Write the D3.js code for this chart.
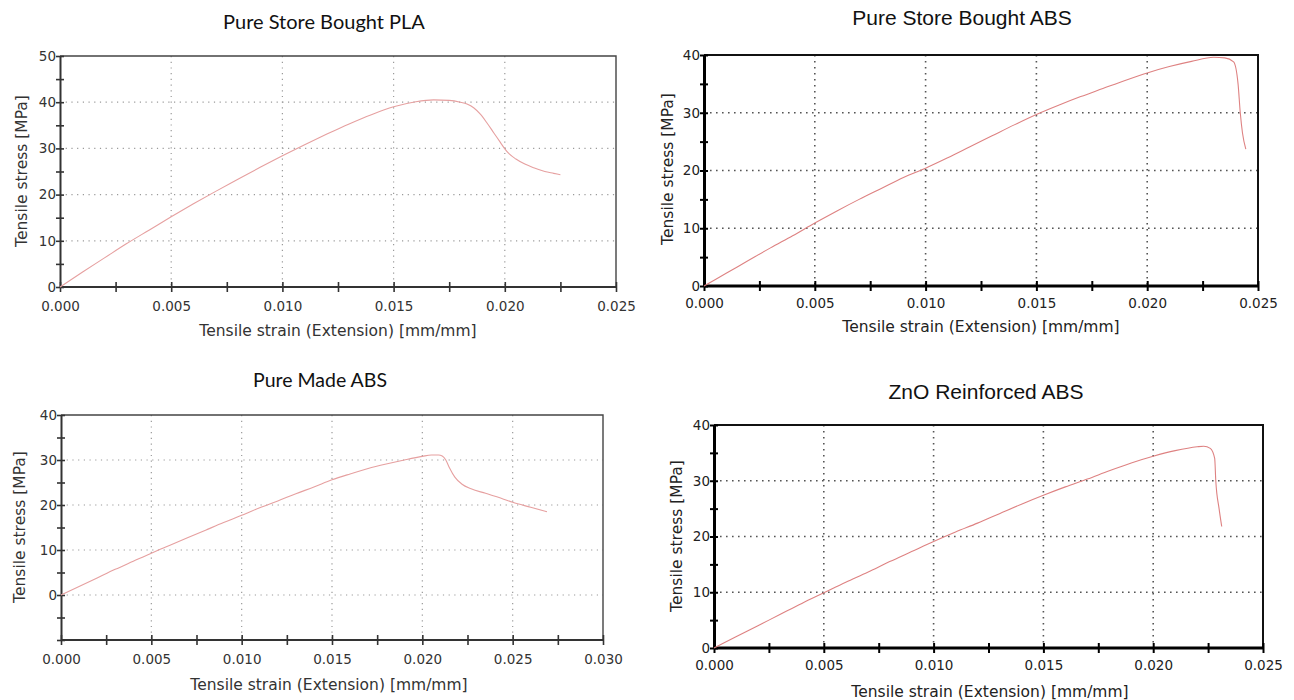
<!DOCTYPE html>
<html>
<head>
<meta charset="utf-8">
<script src="https://cdn.jsdelivr.net/npm/d3@7"></script>
<style>
  body { margin: 0; background: #fff; }
  svg { display: block; }
</style>
</head>
<body>
<div id="chart"></div>
<script>
// Tensile test curves: strain [mm/mm] and stress [MPa]
const plaStrain = [0, 0.001, 0.002, 0.003, 0.004, 0.005, 0.006, 0.007, 0.008, 0.009, 0.010, 0.011, 0.012, 0.013, 0.014, 0.015, 0.016, 0.0168, 0.0175, 0.018, 0.0183, 0.0186, 0.0189, 0.0192, 0.0195, 0.0198, 0.020, 0.0202, 0.0205, 0.0209, 0.0213, 0.0218, 0.0222, 0.0225];
const plaStress = [0, 3.2, 6.3, 9.4, 12.3, 15.2, 18.0, 20.7, 23.3, 25.9, 28.4, 30.8, 33.1, 35.3, 37.3, 39.0, 40.1, 40.5, 40.4, 40.0, 39.6, 38.8, 37.4, 35.5, 33.4, 31.3, 29.9, 28.8, 27.7, 26.6, 25.8, 25.0, 24.6, 24.3];

const storeAbsStrain = [0, 0.001, 0.002, 0.003, 0.004, 0.005, 0.006, 0.007, 0.008, 0.009, 0.010, 0.011, 0.012, 0.013, 0.014, 0.015, 0.016, 0.017, 0.018, 0.019, 0.020, 0.021, 0.022, 0.023, 0.0235, 0.0239, 0.0241, 0.0242, 0.0243, 0.02445];
const storeAbsStress = [0, 2.2, 4.4, 6.6, 8.7, 10.9, 13.0, 15.0, 16.9, 18.8, 20.4, 22.2, 24.1, 26.0, 27.9, 29.7, 31.3, 32.8, 34.2, 35.6, 36.9, 38.0, 38.9, 39.6, 39.5, 38.8, 35.0, 30.0, 26.5, 23.7];

const madeAbsStrain = [0, 0.001, 0.002, 0.003, 0.004, 0.005, 0.006, 0.007, 0.008, 0.009, 0.010, 0.011, 0.012, 0.013, 0.014, 0.015, 0.016, 0.017, 0.018, 0.019, 0.020, 0.0205, 0.0209, 0.0211, 0.0213, 0.0215, 0.0218, 0.0222, 0.0227, 0.0235, 0.0245, 0.025, 0.026, 0.0269];
const madeAbsStress = [0, 1.9, 3.8, 5.7, 7.5, 9.3, 11.0, 12.7, 14.4, 16.1, 17.7, 19.4, 20.9, 22.5, 24.0, 25.6, 26.9, 28.1, 29.1, 30.0, 30.8, 31.1, 31.1, 30.9, 30.0, 28.3, 26.2, 24.6, 23.6, 22.6, 21.3, 20.6, 19.5, 18.5];

const znoAbsStrain = [0, 0.001, 0.002, 0.003, 0.004, 0.005, 0.006, 0.007, 0.008, 0.009, 0.010, 0.011, 0.012, 0.013, 0.014, 0.015, 0.016, 0.017, 0.018, 0.019, 0.020, 0.021, 0.022, 0.0223, 0.0226, 0.0228, 0.02285, 0.0230, 0.02312];
const znoAbsStress = [0, 2.0, 4.0, 6.0, 8.0, 9.9, 11.8, 13.6, 15.5, 17.3, 19.1, 20.8, 22.4, 24.1, 25.8, 27.4, 28.9, 30.3, 31.8, 33.2, 34.4, 35.4, 36.1, 36.2, 35.8, 34.0, 30.0, 25.0, 21.8];

const titles = ['Pure Store Bought PLA', 'Pure Store Bought ABS', 'Pure Made ABS', 'ZnO Reinforced ABS'];
const xLabel = 'Tensile strain (Extension) [mm/mm]';
const yLabel = 'Tensile stress [MPa]';

const xTicks25 = [0, 0.005, 0.010, 0.015, 0.020, 0.025];
const xTicks30 = [0, 0.005, 0.010, 0.015, 0.020, 0.025, 0.030];
const yTicks40 = [0, 10, 20, 30, 40];
const yTicks50 = [0, 10, 20, 30, 40, 50];

let svg = d3.select('#chart')
  .append('svg')
    .attr('width', 1294)
    .attr('height', 700);

let labelFont = 'DejaVu Sans, Verdana, sans-serif';

let drawPanel = function(p) {
  /**
   * One stress-strain plot with its frame, dotted grid, ticks and labels.
   */
  let x = d3.scaleLinear().domain(p.xDomain).range([p.left, p.right]);
  let y = d3.scaleLinear().domain(p.yDomain).range([p.bottom, p.top]);
  let g = svg.append('g');

  let xMinor = d3.range(0, p.xDomain[1] + 1e-9, 0.0025);
  let yMinor = d3.range(p.yDomain[0], p.yDomain[1] + 1e-9, 5);

  // dotted grid
  g.selectAll('.vgrid')
    .data(p.xTicks.filter(d => d > 0 && d < p.xDomain[1]))
    .enter().append('line')
      .attr('x1', d => x(d)).attr('x2', d => x(d))
      .attr('y1', p.top).attr('y2', p.bottom)
      .attr('stroke', p.gridColor).attr('stroke-width', p.gridWidth)
      .attr('stroke-dasharray', p.dash);
  g.selectAll('.hgrid')
    .data(p.yTicks.filter(d => d > p.yDomain[0] && d < p.yDomain[1]))
    .enter().append('line')
      .attr('x1', p.left).attr('x2', p.right)
      .attr('y1', d => y(d)).attr('y2', d => y(d))
      .attr('stroke', p.gridColor).attr('stroke-width', p.gridWidth)
      .attr('stroke-dasharray', p.dash);

  // frame: thin top/right
  g.append('path')
    .attr('d', `M${p.left},${p.top}H${p.right}V${p.bottom}`)
    .attr('fill', 'none')
    .attr('stroke', p.frameColor)
    .attr('stroke-width', p.frameWidth);

  // X axis
  let xAxis = g.append('g')
    .attr('transform', 'translate(0,' + p.bottom + ')')
    .call(d3.axisBottom(x)
      .tickValues(xMinor)
      .tickSize(0)
      .tickPadding(p.xPad)
      .tickFormat(d => p.xTicks.some(t => Math.abs(t - d) < 1e-9) ? d3.format('.3f')(d) : ''));
  xAxis.select('.domain').attr('stroke', p.axisColor).attr('stroke-width', p.axisWidth)
    .attr('d', `M${p.left},0H${p.right}`);
  xAxis.selectAll('.tick line').attr('y1', -5).attr('y2', 5)
    .attr('stroke', p.axisColor).attr('stroke-width', p.tickWidth);
  xAxis.selectAll('.tick text')
    .attr('fill', p.textColor)
    .style('font-family', labelFont)
    .style('font-size', '13.5px');

  // Y axis
  let yAxis = g.append('g')
    .attr('transform', 'translate(' + p.left + ',0)')
    .call(d3.axisLeft(y)
      .tickValues(yMinor)
      .tickSize(0)
      .tickPadding(4)
      .tickFormat(d => p.yTicks.includes(d) ? d : ''));
  yAxis.select('.domain').attr('stroke', p.axisColor).attr('stroke-width', p.axisWidth);
  yAxis.selectAll('.tick line').attr('x1', -4).attr('x2', 4)
    .attr('stroke', p.axisColor).attr('stroke-width', p.tickWidth);
  yAxis.selectAll('.tick text')
    .attr('fill', p.textColor)
    .style('font-family', labelFont)
    .style('font-size', '13.5px');

  // curve
  let pts = p.strain.map((s, i) => [s, p.stress[i]]);
  g.append('path')
    .datum(pts)
    .attr('fill', 'none')
    .attr('stroke', p.lineColor)
    .attr('stroke-width', 1.1)
    .attr('d', d3.line()
      .x(d => x(d[0]))
      .y(d => y(d[1]))
      .curve(d3.curveMonotoneX));

  // titles and labels
  g.append('text')
    .attr('x', p.titleX).attr('y', p.titleY)
    .attr('text-anchor', 'middle')
    .attr('fill', '#111')
    .style('font-family', p.titleFont)
    .style('font-size', p.titleSize + 'px')
    .text(p.title);
  g.append('text')
    .attr('x', p.xLabelX).attr('y', p.xLabelY)
    .attr('text-anchor', 'middle')
    .attr('fill', p.textColor)
    .style('font-family', labelFont)
    .style('font-size', '15.5px')
    .text(xLabel);
  g.append('text')
    .attr('transform', `translate(${p.yLabelX},${p.yLabelY}) rotate(-90)`)
    .attr('text-anchor', 'middle')
    .attr('fill', p.textColor)
    .style('font-family', labelFont)
    .style('font-size', '15.5px')
    .text(yLabel);
};

const lightStyle = {
  gridColor: '#9a9a9a', gridWidth: 1.2, dash: '1.2,4.5',
  frameColor: '#444', frameWidth: 1.4,
  axisColor: '#333', axisWidth: 2, tickWidth: 1.6, textColor: '#333',
  lineColor: '#e6a0a0',
  titleFont: 'Lato, "Open Sans", sans-serif', xPad: 14
};
const darkStyle = {
  gridColor: '#555', gridWidth: 1.6, dash: '1.6,4.4',
  frameColor: '#111', frameWidth: 2,
  axisColor: '#000', axisWidth: 3, tickWidth: 2, textColor: '#222',
  lineColor: '#de8282',
  titleFont: '"Liberation Sans", Arial, sans-serif', xPad: 12
};

drawPanel(Object.assign({}, lightStyle, {
  title: titles[0], strain: plaStrain, stress: plaStress, titleSize: 20,
  xDomain: [0, 0.025], yDomain: [0, 50], xTicks: xTicks25, yTicks: yTicks50,
  left: 60, right: 616, top: 56, bottom: 287,
  titleX: 324, titleY: 29, xLabelX: 338, xLabelY: 336, yLabelX: 27, yLabelY: 171
}));

drawPanel(Object.assign({}, darkStyle, {
  title: titles[1], strain: storeAbsStrain, stress: storeAbsStress, titleSize: 21,
  xDomain: [0, 0.025], yDomain: [0, 40], xTicks: xTicks25, yTicks: yTicks40,
  left: 704, right: 1258, top: 55, bottom: 286,
  titleX: 962, titleY: 25, xLabelX: 981, xLabelY: 332, yLabelX: 673, yLabelY: 169
}));

drawPanel(Object.assign({}, lightStyle, {
  title: titles[2], strain: madeAbsStrain, stress: madeAbsStress, titleSize: 19.5,
  xDomain: [0, 0.030], yDomain: [-10, 40], xTicks: xTicks30, yTicks: yTicks40,
  left: 61, right: 603, top: 415, bottom: 640,
  titleX: 320, titleY: 387, xLabelX: 329, xLabelY: 690, yLabelX: 25, yLabelY: 527
}));

drawPanel(Object.assign({}, darkStyle, {
  title: titles[3], strain: znoAbsStrain, stress: znoAbsStress, titleSize: 21,
  xDomain: [0, 0.025], yDomain: [0, 40], xTicks: xTicks25, yTicks: yTicks40,
  left: 714, right: 1263, top: 425, bottom: 648,
  titleX: 986, titleY: 399, xLabelX: 990, xLabelY: 697, yLabelX: 682, yLabelY: 536
}));
</script>
</body>
</html>
